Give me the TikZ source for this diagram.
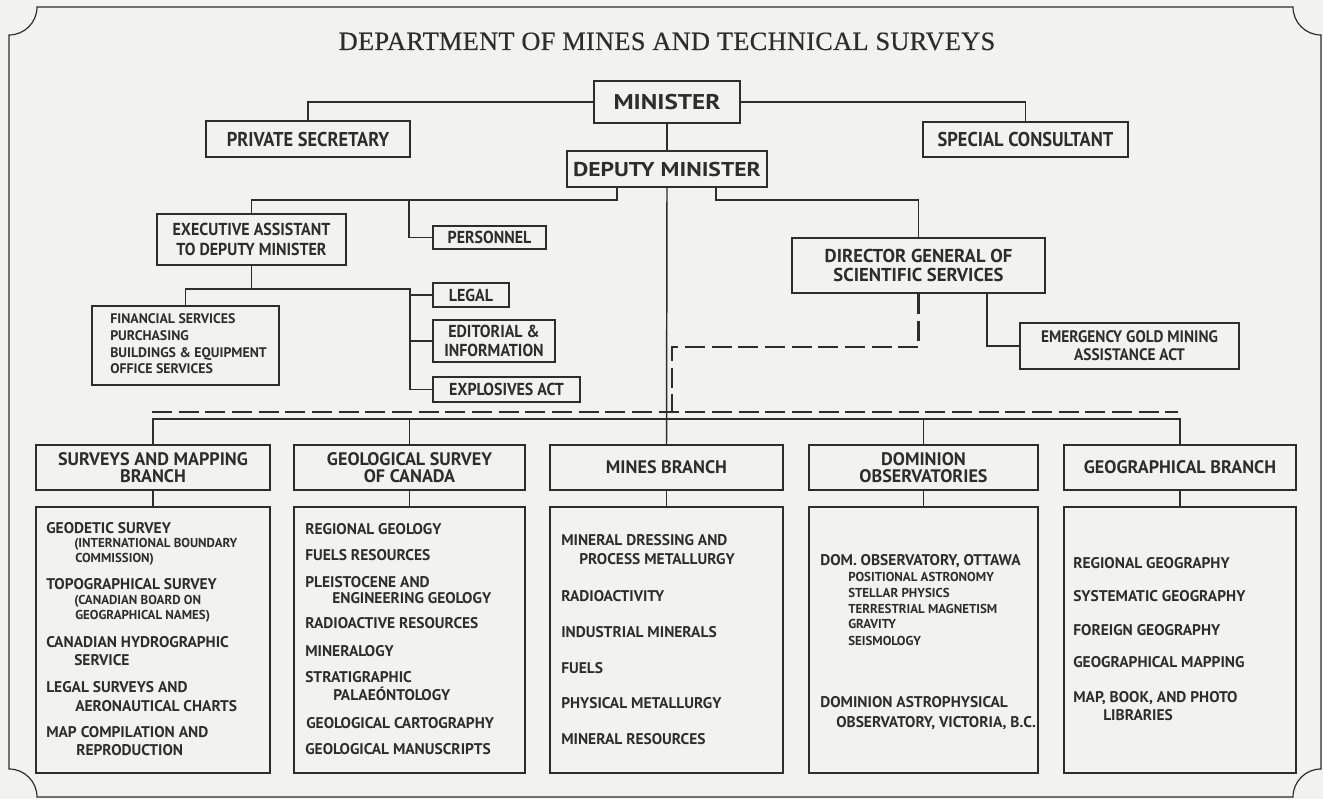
\documentclass[tikz,border=0pt]{standalone}
\usepackage{fontspec}
\newfontfamily\cfn{PT Sans}
\newfontfamily\cfc{PT Sans}[FakeStretch=0.92]
\newfontfamily\cfw{PT Sans}[FakeStretch=1.18]
\newfontfamily\tfont{Liberation Serif}[LetterSpace=1,FakeBold=0.4]
\definecolor{ink}{RGB}{45,45,45}
\definecolor{paper}{RGB}{242,242,240}
\newcommand\bx[7]{\node[box,#1,minimum width={(#5-#3)*0.75pt},minimum height={(#6-#4)*0.75pt}] (#2) at ({(#3+#5)/2},{(#4+#6)/2}) {#7};}
\newcounter{tl}
\newcommand\tl[4]{\stepcounter{tl}\node[#1,anchor=base west] (t\arabic{tl}) at (#2,#3) {#4};}
\begin{document}
\begin{tikzpicture}[x=0.75pt,y=-0.75pt,
  box/.style={draw=ink,line width=1.5pt,inner sep=0pt,align=center,text=ink},
  conn/.style={draw=ink,line width=1.1pt},
  dashln/.style={draw=ink,line width=1.6pt,dash pattern=on 15pt off 5pt},
  fMin/.style={font={\cfw\bfseries\fontsize{16}{18}\selectfont}},
  fDep/.style={font={\cfw\bfseries\fontsize{15}{17}\selectfont}},
  fTop/.style={font={\cfc\bfseries\fontsize{15}{17}\selectfont}},
  fMid/.style={font={\cfc\bfseries\fontsize{13}{14.5}\selectfont}},
  fDir/.style={font={\cfn\bfseries\fontsize{14}{14.5}\selectfont}},
  fEm/.style={font={\cfc\bfseries\fontsize{12.5}{13.3}\selectfont}},
  fHd/.style={font={\cfn\bfseries\fontsize{13.6}{12.75}\selectfont}},
  ctxt/.style={inner sep=0pt,text=ink,font={\cfn\bfseries\fontsize{11.6}{12}\selectfont}},
  stxt/.style={inner sep=0pt,text=ink,font={\cfn\bfseries\fontsize{9.7}{10}\selectfont}},
  ftxt/.style={inner sep=0pt,text=ink,font={\cfn\bfseries\fontsize{10.4}{11}\selectfont}}
]
\fill[paper] (0,0) rectangle (1323,799);
\useasboundingbox (0,0) rectangle (1323,799);
% frame
\draw[ink,line width=0.9pt] (37,7) -- (1293,7) .. controls (1293,22.5) and (1305.5,35) .. (1321,35)
  -- (1321,769) .. controls (1305.5,769) and (1293,781.5) .. (1293,797)
  -- (37,797) .. controls (37,781.5) and (24.5,769) .. (9,769)
  -- (9,35) .. controls (24.5,35) and (37,22.5) .. (37,7) -- cycle;
% title
\node[anchor=base,text=ink,inner sep=0pt,font={\tfont\fontsize{19.8}{22}\selectfont}] (title) at (667,50) {DEPARTMENT OF MINES AND TECHNICAL SURVEYS};
% top boxes
\bx{fMin}{minister}{594}{81}{740}{123}{MINISTER}
\bx{fTop}{privsec}{206}{121}{410}{157}{PRIVATE SECRETARY}
\bx{fTop}{special}{923}{122}{1128}{157}{SPECIAL CONSULTANT}
\bx{fDep}{deputy}{567}{151}{767}{187}{DEPUTY MINISTER}
\bx{fMid}{exec}{157}{214}{346}{265}{EXECUTIVE ASSISTANT\\TO DEPUTY MINISTER}
\bx{fMid}{personnel}{433}{226}{546}{249}{PERSONNEL}
\bx{fDir}{director}{792}{238}{1045}{293}{DIRECTOR GENERAL OF\\SCIENTIFIC SERVICES}
\bx{}{fin}{92}{306}{279}{385}{}
\bx{fMid}{legal}{433}{283}{509}{307}{LEGAL}
\bx{fMid}{editorial}{433}{320}{555}{362}{EDITORIAL \&\\INFORMATION}
\bx{fMid}{explos}{433}{377}{580}{402}{EXPLOSIVES ACT}
\bx{fEm}{emerg}{1020}{323}{1239}{369}{EMERGENCY GOLD MINING\\ASSISTANCE ACT}
\tl{ftxt}{110}{323}{FINANCIAL SERVICES}
\tl{ftxt}{110}{340}{PURCHASING}
\tl{ftxt}{110}{357}{BUILDINGS \& EQUIPMENT}
\tl{ftxt}{110}{373}{OFFICE SERVICES}
% branch headers
\bx{fHd}{surv}{36}{445}{270}{490}{SURVEYS AND MAPPING\\BRANCH}
\bx{fHd}{geol}{294}{445}{525}{490}{GEOLOGICAL SURVEY\\OF CANADA}
\bx{fHd}{mines}{550}{445}{783}{490}{MINES BRANCH}
\bx{fHd}{domin}{809}{445}{1038}{490}{DOMINION\\OBSERVATORIES}
\bx{fHd}{geog}{1064}{445}{1296}{490}{GEOGRAPHICAL BRANCH}
% content boxes
\bx{}{survc}{36}{507}{270}{773}{}
\bx{}{geolc}{294}{507}{525}{773}{}
\bx{}{minesc}{550}{507}{783}{773}{}
\bx{}{dominc}{809}{507}{1038}{773}{}
\bx{}{geogc}{1064}{507}{1296}{773}{}
% surveys content
\tl{ctxt}{46}{533}{GEODETIC SURVEY}
\tl{stxt}{74}{547.5}{(INTERNATIONAL BOUNDARY}
\tl{stxt}{75}{562.5}{COMMISSION)}
\tl{ctxt}{46}{589}{TOPOGRAPHICAL SURVEY}
\tl{stxt}{74}{604.5}{(CANADIAN BOARD ON}
\tl{stxt}{75}{619.5}{GEOGRAPHICAL NAMES)}
\tl{ctxt}{46}{647}{CANADIAN HYDROGRAPHIC}
\tl{ctxt}{74}{665}{SERVICE}
\tl{ctxt}{46}{692}{LEGAL SURVEYS AND}
\tl{ctxt}{75}{711}{AERONAUTICAL CHARTS}
\tl{ctxt}{46}{737}{MAP COMPILATION AND}
\tl{ctxt}{76}{755}{REPRODUCTION}
% geological content
\tl{ctxt}{305}{534}{REGIONAL GEOLOGY}
\tl{ctxt}{305}{560}{FUELS RESOURCES}
\tl{ctxt}{305}{587}{PLEISTOCENE AND}
\tl{ctxt}{332}{603}{ENGINEERING GEOLOGY}
\tl{ctxt}{305}{628}{RADIOACTIVE RESOURCES}
\tl{ctxt}{305}{656}{MINERALOGY}
\tl{ctxt}{305}{682}{STRATIGRAPHIC}
\tl{ctxt}{333}{700}{PALAEÓNTOLOGY}
\tl{ctxt}{306}{728}{GEOLOGICAL CARTOGRAPHY}
\tl{ctxt}{305}{754}{GEOLOGICAL MANUSCRIPTS}
% mines content
\tl{ctxt}{561}{545}{MINERAL DRESSING AND}
\tl{ctxt}{579}{564}{PROCESS METALLURGY}
\tl{ctxt}{561}{601}{RADIOACTIVITY}
\tl{ctxt}{561}{637}{INDUSTRIAL MINERALS}
\tl{ctxt}{561}{673}{FUELS}
\tl{ctxt}{561}{708}{PHYSICAL METALLURGY}
\tl{ctxt}{561}{744}{MINERAL RESOURCES}
% dominion content
\tl{ctxt}{820}{565}{DOM. OBSERVATORY, OTTAWA}
\tl{stxt}{848}{581.5}{POSITIONAL ASTRONOMY}
\tl{stxt}{848}{597.5}{STELLAR PHYSICS}
\tl{stxt}{848}{613.5}{TERRESTRIAL MAGNETISM}
\tl{stxt}{848}{628.5}{GRAVITY}
\tl{stxt}{848}{645.5}{SEISMOLOGY}
\tl{ctxt}{820}{707}{DOMINION ASTROPHYSICAL}
\tl{ctxt}{836}{727}{OBSERVATORY, VICTORIA, B.C.}
% geographical content
\tl{ctxt}{1073}{568}{REGIONAL GEOGRAPHY}
\tl{ctxt}{1073}{601}{SYSTEMATIC GEOGRAPHY}
\tl{ctxt}{1073}{635}{FOREIGN GEOGRAPHY}
\tl{ctxt}{1073}{667}{GEOGRAPHICAL MAPPING}
\tl{ctxt}{1073}{702}{MAP, BOOK, AND PHOTO}
\tl{ctxt}{1103}{720}{LIBRARIES}
% coordinates
\coordinate (d1) at (617,200);
\coordinate (p1) at (409,200);
\coordinate (d2) at (716,200);
\coordinate (e1) at (252,289);
\coordinate (e2) at (410,289);
\coordinate (g1) at (987,346);
\coordinate (c1) at (672,347);
\coordinate (dl) at (152,412);
\coordinate (dr) at (1178,412);
\coordinate (bl) at (152,419);
% connectors
\draw[conn] (minister.west) -| (privsec.north);
\draw[conn] (minister.east) -| (special.north);
\draw[conn] (minister.south) -- (deputy.north);
\draw[conn] (deputy.south -| d1) -- (d1) -| (exec.north);
\draw[conn] (p1) |- (personnel.west);
\draw[conn] (deputy.south -| d2) -- (d2) -| (director.north);
\draw[conn] (deputy.south) -- (mines.north);
\draw[conn] (exec.south) -- (exec.south |- e1);
\draw[conn] (fin.north) |- (e2) -- (e2 |- explos.west) -- (explos.west);
\draw[conn] (e2 |- legal.west) -- (legal.west);
\draw[conn] (e2 |- editorial.west) -- (editorial.west);
\draw[conn] (director.south -| g1) |- (emerg.west);
\draw[dashln] (director.south) |- (c1) -- (c1 |- dl);
\draw[dashln] (dl) -- (dr);
\draw[conn] (surv.north) -- (surv.north |- bl) -- (geog.north |- bl) -- (geog.north);
\draw[conn] (geol.north) -- (geol.north |- bl);
\draw[conn] (domin.north) -- (domin.north |- bl);
\draw[conn] (surv.south) -- (survc.north);
\draw[conn] (geol.south) -- (geolc.north);
\draw[conn] (mines.south) -- (minesc.north);
\draw[conn] (domin.south) -- (dominc.north);
\draw[conn] (geog.south) -- (geogc.north);
\end{tikzpicture}
\end{document}
